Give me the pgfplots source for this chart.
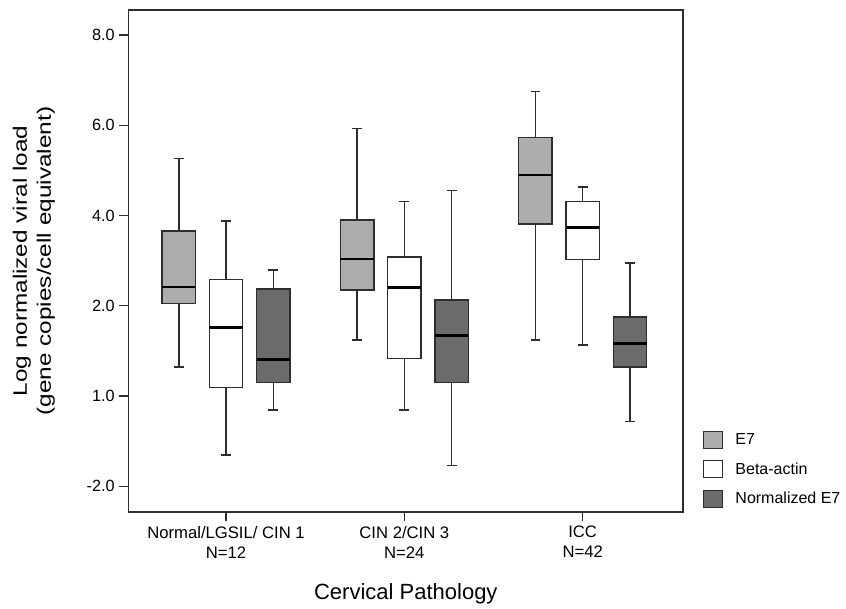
\documentclass[border=0pt]{standalone}
\usepackage{fontspec}
\setmainfont{Liberation Sans}
\newfontfamily\ylabfont[FakeStretch=1.25]{Liberation Sans}
\usepackage{pgfplots}
\pgfplotsset{compat=1.18}
\usepgfplotslibrary{statistics}

\definecolor{eseven}{HTML}{ADADAD}
\definecolor{normE}{HTML}{6B6B6B}
\definecolor{edge}{HTML}{2E2E2E}

% one box: fill colour as argument
\pgfplotsset{
  vbox/.style={solid, draw=edge, line width=1.1pt, fill=#1, forget plot,
    boxplot/draw direction=y,
    boxplot/box extend=0.187, boxplot/whisker extend=0.055,
    boxplot/every median/.style={black, line width=1.9pt}},
  legsq/.style={legend image code/.code={%
    \draw[##1, draw=edge, line width=0.9pt] (0pt,-6.4pt) rectangle (14.25pt,6.4pt);
    \path (22pt,0pt);}},
}

\begin{document}
\begin{tikzpicture}
\begin{axis}[
  name=main,
  width=415.7pt, height=376.5pt, scale only axis,
  xmin=0.454, xmax=3.5625, ymin=-2.57, ymax=8.555,
  xtick={1,2,3},
  xticklabels={{Normal/LGSIL/ CIN 1\\N=12},{CIN 2/CIN 3\\N=24},{ICC\\N=42}},
  xticklabel style={align=center, font=\fontsize{12.5}{15}\selectfont},
  ytick={-2,0,2,4,6,8},
  yticklabels={-2.0,1.0,2.0,4.0,6.0,8.0},
  yticklabel style={font=\fontsize{12.2}{14}\selectfont},
  tick pos=left, tick align=outside, major tick length=7pt,
  axis line style={line width=1pt, draw=edge},
  every tick/.style={edge, line width=1pt},
  xlabel={Cervical Pathology},
  xlabel style={at={(axis description cs:0.5,-0.175)}, anchor=base,
    font=\fontsize{16.5}{19}\selectfont},
  ylabel={Log normalized viral load\\(gene copies/cell equivalent)},
  ylabel style={align=center, at={(axis description cs:-0.171,0.5)}, anchor=center,
    font=\ylabfont\fontsize{14.6}{18}\selectfont},
  legend style={at={(1,0)}, anchor=south west, xshift=14.5pt, yshift=2.4pt,
    draw=none, fill=none, inner sep=0pt, row sep=8.2pt,
    font=\fontsize{12}{14}\selectfont},
  legend cell align=left,
]
% Normal/LGSIL/CIN 1
\addplot[vbox=eseven, boxplot prepared={draw position=0.735,
  lower whisker=0.64, lower quartile=2.05, median=2.415,
  upper quartile=3.66, upper whisker=5.27}] coordinates {};
\addplot[vbox=white, boxplot prepared={draw position=1,
  lower whisker=-1.31, lower quartile=0.19, median=1.52,
  upper quartile=2.58, upper whisker=3.88}] coordinates {};
\addplot[vbox=normE, boxplot prepared={draw position=1.265,
  lower whisker=-0.31, lower quartile=0.30, median=0.81,
  upper quartile=2.37, upper whisker=2.79}] coordinates {};
% CIN 2/CIN 3
\addplot[vbox=eseven, boxplot prepared={draw position=1.735,
  lower whisker=1.24, lower quartile=2.35, median=3.04,
  upper quartile=3.90, upper whisker=5.93}] coordinates {};
\addplot[vbox=white, boxplot prepared={draw position=2,
  lower whisker=-0.31, lower quartile=0.83, median=2.41,
  upper quartile=3.08, upper whisker=4.31}] coordinates {};
\addplot[vbox=normE, boxplot prepared={draw position=2.265,
  lower whisker=-1.54, lower quartile=0.30, median=1.34,
  upper quartile=2.13, upper whisker=4.56}] coordinates {};
% ICC
\addplot[vbox=eseven, boxplot prepared={draw position=2.735,
  lower whisker=1.24, lower quartile=3.81, median=4.90,
  upper quartile=5.73, upper whisker=6.75}] coordinates {};
\addplot[vbox=white, boxplot prepared={draw position=3,
  lower whisker=1.13, lower quartile=3.03, median=3.74,
  upper quartile=4.31, upper whisker=4.63}] coordinates {};
\addplot[vbox=normE, boxplot prepared={draw position=3.265,
  lower whisker=-0.56, lower quartile=0.64, median=1.17,
  upper quartile=1.75, upper whisker=2.95}] coordinates {};

\addlegendimage{legsq, fill=eseven}
\addlegendentry{E7}
\addlegendimage{legsq, fill=white}
\addlegendentry{Beta-actin}
\addlegendimage{legsq, fill=normE}
\addlegendentry{Normalized E7}
\end{axis}
% page margins as in the reference
\path ([xshift=-96.5pt,yshift=7.5pt]main.north west)
      ([xshift=122.25pt,yshift=-71.25pt]main.south east);
\end{tikzpicture}
\end{document}
